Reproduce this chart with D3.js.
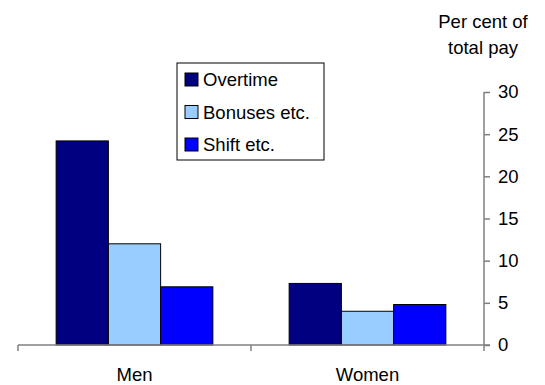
<!DOCTYPE html>
<html>
<head>
<meta charset="utf-8">
<script src="https://cdn.jsdelivr.net/npm/d3@7"></script>
<style>
  body { margin: 0; background: #fff; }
  svg { display: block; font-family: "Liberation Sans", Arial, sans-serif; }
</style>
</head>
<body>
<svg id="chart" width="545" height="385"></svg>
<script>
// Pay components as a share of total pay
const categories = ["Men", "Women"];
const seriesNames = ["Overtime", "Bonuses etc.", "Shift etc."];
const overtime = [24.2, 7.3];
const bonuses = [12.0, 4.0];
const shift = [6.9, 4.8];
const yTicks = [0, 5, 10, 15, 20, 25, 30];
const colors = ["#000080", "#99CCFF", "#0000FF"];

const values = [overtime, bonuses, shift];
const fontSize = 18.5;

const svg = d3.select("#chart");
const plotLeft = 18, plotRight = 484, plotTop = 92, plotBottom = 345;

const x0 = d3.scaleBand().domain(categories).range([plotLeft, plotRight]).paddingInner(0).paddingOuter(0);
const x1 = d3.scaleBand().domain(seriesNames).range([0, x0.bandwidth()]).paddingInner(0).paddingOuter(0.73);
const y = d3.scaleLinear().domain([0, 30]).range([plotBottom, plotTop]);

// bars
const g = svg.append("g");
categories.forEach((c, ci) => {
  seriesNames.forEach((s, si) => {
    const v = values[si][ci];
    g.append("rect")
      .attr("x", x0(c) + x1(s))
      .attr("y", y(v))
      .attr("width", x1.bandwidth())
      .attr("height", y(0) - y(v))
      .attr("fill", colors[si])
      .attr("stroke", "#000")
      .attr("stroke-width", 1);
  });
});

// category axis along the bottom
const xAxis = svg.append("g").attr("transform", `translate(0,${plotBottom})`);
xAxis.append("line").attr("x1", plotLeft).attr("x2", plotRight + 6).attr("y1", 0).attr("y2", 0)
  .attr("stroke", "#808080").attr("stroke-width", 1.5);
[plotLeft, x0("Women")].forEach(px => {
  xAxis.append("line").attr("x1", px).attr("x2", px).attr("y1", 0).attr("y2", 6)
    .attr("stroke", "#808080").attr("stroke-width", 1.5);
});
categories.forEach(c => {
  xAxis.append("text")
    .attr("x", x0(c) + x0.bandwidth() / 2)
    .attr("y", 36)
    .attr("text-anchor", "middle")
    .attr("font-size", fontSize)
    .attr("fill", "#000")
    .text(c);
});

// value axis on the right
const yAxis = svg.append("g").attr("transform", `translate(${plotRight},0)`)
  .call(d3.axisRight(y).tickValues(yTicks).tickSize(6).tickPadding(8).tickSizeOuter(0));
yAxis.select(".domain").attr("stroke", "#808080").attr("stroke-width", 1.5)
  .attr("d", `M0,${plotTop}V${plotBottom + 6}`);
yAxis.selectAll(".tick line").attr("stroke", "#808080").attr("stroke-width", 1.5);
yAxis.selectAll(".tick text").attr("font-size", fontSize).attr("fill", "#000")
  .attr("font-family", "Liberation Sans, Arial, sans-serif");

// axis title
const title = svg.append("text").attr("text-anchor", "middle").attr("font-size", fontSize).attr("fill", "#000");
title.append("tspan").attr("x", 483).attr("y", 28).text("Per cent of");
title.append("tspan").attr("x", 483).attr("y", 54).text("total pay");

// legend
const legend = svg.append("g").attr("transform", "translate(177,63)");
legend.append("rect").attr("width", 147).attr("height", 97)
  .attr("fill", "#fff").attr("stroke", "#000").attr("stroke-width", 1);
seriesNames.forEach((s, i) => {
  const row = legend.append("g").attr("transform", `translate(8,${17 + i * 32.5})`);
  row.append("rect").attr("x", 0).attr("y", -7).attr("width", 13).attr("height", 13)
    .attr("fill", colors[i]).attr("stroke", "#000").attr("stroke-width", 1);
  row.append("text").attr("x", 18).attr("y", 6).attr("font-size", fontSize).attr("fill", "#000").text(s);
});
</script>
</body>
</html>
